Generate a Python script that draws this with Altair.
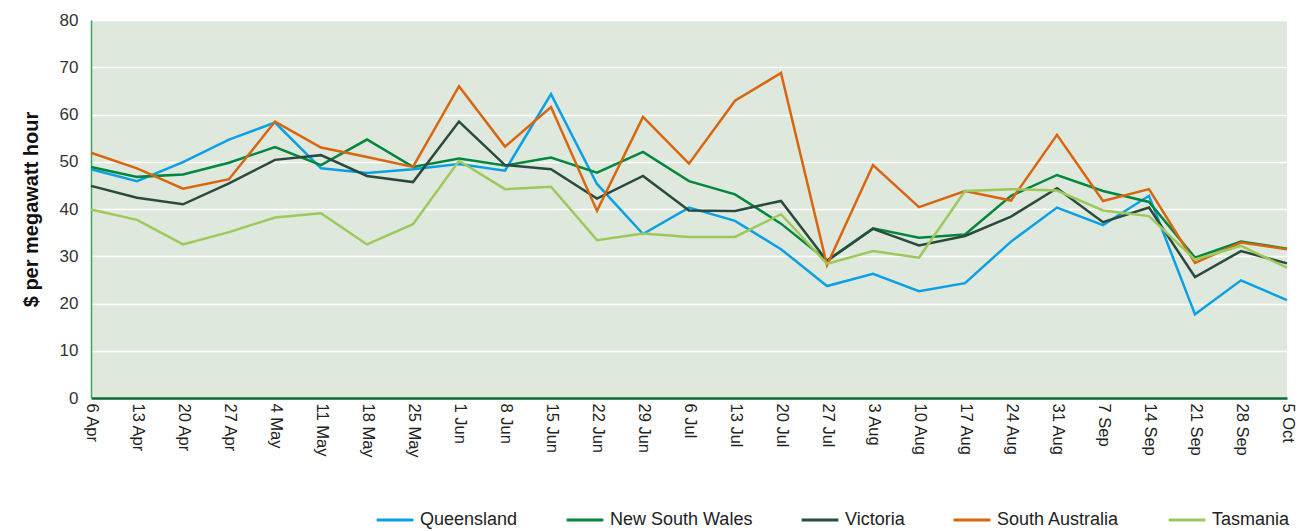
import altair as alt
import pandas as pd

weeks = ["6 Apr", "13 Apr", "20 Apr", "27 Apr", "4 May", "11 May", "18 May", "25 May",
         "1 Jun", "8 Jun", "15 Jun", "22 Jun", "29 Jun", "6 Jul", "13 Jul", "20 Jul",
         "27 Jul", "3 Aug", "10 Aug", "17 Aug", "24 Aug", "31 Aug", "7 Sep", "14 Sep",
         "21 Sep", "28 Sep", "5 Oct"]

queensland = [48.4, 45.9, 49.9, 54.7, 58.3, 48.6, 47.6, 48.4, 49.5, 48.1, 64.3, 45.3, 34.7,
              40.3, 37.5, 31.5, 23.7, 26.3, 22.6, 24.3, 33.1, 40.3, 36.6, 42.8, 17.7, 24.9, 20.7]
nsw = [48.9, 46.8, 47.3, 49.8, 53.1, 49.3, 54.7, 48.9, 50.7, 49.2, 50.9, 47.7, 52.1,
       45.9, 43.1, 36.9, 29.1, 35.9, 33.9, 34.6, 42.8, 47.2, 43.8, 41.5, 29.7, 33.1, 31.6]
victoria = [44.9, 42.4, 41.0, 45.4, 50.4, 51.4, 47.0, 45.7, 58.5, 49.3, 48.4, 42.2, 47.0,
            39.7, 39.6, 41.7, 29.0, 35.8, 32.3, 34.3, 38.4, 44.4, 37.2, 40.3, 25.6, 31.1, 28.5]
south_australia = [51.9, 48.6, 44.3, 46.3, 58.5, 53.0, 51.0, 48.9, 66.0, 53.2, 61.6, 39.6, 59.5,
                   49.6, 62.9, 68.8, 28.1, 49.3, 40.4, 43.8, 41.8, 55.7, 41.7, 44.2, 28.6, 32.9, 31.5]
tasmania = [39.9, 37.7, 32.5, 35.1, 38.2, 39.1, 32.5, 36.8, 50.2, 44.2, 44.7, 33.4, 34.8,
            34.1, 34.1, 38.9, 28.4, 31.1, 29.7, 43.8, 44.2, 43.9, 39.7, 38.5, 29.3, 32.2, 27.6]

states = ["Queensland", "New South Wales", "Victoria", "South Australia", "Tasmania"]
colors = ["#0aa0e6", "#00873e", "#2b4a3e", "#d9660f", "#9dc95c"]
draw_order = {"Tasmania": 0, "South Australia": 1, "Victoria": 2, "New South Wales": 3, "Queensland": 4}

series = [queensland, nsw, victoria, south_australia, tasmania]
rows = []
for s, vals in zip(states, series):
    for i, (w, v) in enumerate(zip(weeks, vals)):
        rows.append({"week": w, "idx": i, "state": s, "price": v, "ord": draw_order[s]})
df = pd.DataFrame(rows)

font = "Liberation Sans"

chart = alt.Chart(df).mark_line(strokeWidth=2.5).encode(
    x=alt.X("week:N", sort=weeks, title=None,
            scale=alt.Scale(type="point", padding=0),
            axis=alt.Axis(labelAngle=90, labelAlign="left", labelBaseline="middle",
                          labelFont=font, labelFontSize=16.5, labelColor="#222",
                          labelPadding=5, ticks=False, domainColor="#0a6b35",
                          domainWidth=2.5, grid=False, labelOverlap=False)),
    y=alt.Y("price:Q", title="$ per megawatt hour",
            scale=alt.Scale(domain=[0, 80], nice=False),
            axis=alt.Axis(values=list(range(0, 81, 10)), labelFont=font, labelFontSize=17,
                          labelColor="#333", labelPadding=13, ticks=False,
                          domainColor="#3aa35a", domainWidth=1.5,
                          grid=True, gridColor="#ffffff", gridWidth=1.5,
                          titleFont=font, titleFontSize=20, titleFontWeight="bold",
                          titleColor="#111", titlePadding=18)),
    color=alt.Color("state:N", sort=states,
                    scale=alt.Scale(domain=states, range=colors),
                    legend=alt.Legend(title=None, orient="none", direction="horizontal",
                                      legendX=284, legendY=480,
                                      symbolType="stroke", symbolStrokeWidth=3,
                                      symbolSize=1350, labelFont=font, labelFontSize=18,
                                      labelColor="#222", columnPadding=42, labelOffset=5)),
    detail="state:N",
    order=alt.Order("ord:Q"),
).properties(
    width=1196, height=378,
    background="#ffffff",
    padding={"left": 13, "top": 3, "right": 4, "bottom": 2},
).configure_view(
    fill="#dfe8dc", stroke=None,
)

chart.save("out.html", embed_options={"renderer": "svg", "actions": False})
